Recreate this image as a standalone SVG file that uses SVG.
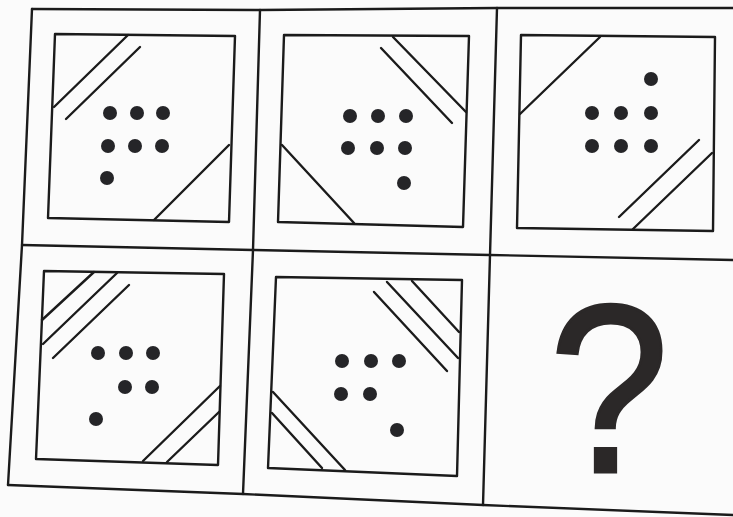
<svg xmlns="http://www.w3.org/2000/svg" width="733" height="517" viewBox="0 0 733 517">
<style>
.ln{stroke:#1b1b1b;stroke-width:2.4;fill:none;stroke-linecap:round;stroke-linejoin:round}
.dt{fill:#252528}
.q{font-family:"Liberation Sans",Arial,sans-serif;font-size:240px;fill:#2b2828;stroke:#2b2828;stroke-width:3;text-anchor:middle}
</style>
<rect width="733" height="517" fill="#fbfbfb"/>
<g id="grid" class="ln">
<path d="M32,9 L260,10 L497,8 L733,8"/>
<path d="M22,245 L253,250 L490,255 L733,260"/>
<path d="M8,485 L243,494 L483,505 L733,515"/>
<path d="M32,9 L22,245 L8,485"/>
<path d="M260,10 L253,250 L243,494"/>
<path d="M497,8 L490,255 L483,505"/>
</g>
<g id="panel1">
<path class="ln" d="M55,34 L235,36 L229,222 L48,218 Z"/>
<path class="ln" d="M54,107 L128,35 M66,119 L140,47 M154,220 L229,145"/>
<g class="dt"><circle cx="110" cy="113" r="7"/><circle cx="137" cy="113" r="7"/><circle cx="163" cy="113" r="7"/><circle cx="108" cy="146" r="7"/><circle cx="135" cy="146" r="7"/><circle cx="162" cy="146" r="7"/><circle cx="107" cy="178" r="7"/></g>
</g>
<g id="panel2">
<path class="ln" d="M284,35 L469,36 L463,227 L278,222 Z"/>
<path class="ln" d="M393,37 L466,112 M381,48 L452,123 M282,145 L354,223"/>
<g class="dt"><circle cx="350" cy="116" r="7"/><circle cx="378" cy="116" r="7"/><circle cx="406" cy="116" r="7"/><circle cx="348" cy="148" r="7"/><circle cx="377" cy="148" r="7"/><circle cx="405" cy="148" r="7"/><circle cx="404" cy="183" r="7"/></g>
</g>
<g id="panel3">
<path class="ln" d="M521,35 L715,37 L713,231 L517,228 Z"/>
<path class="ln" d="M520,114 L600,37 M633,229 L712,153 M619,217 L699,140"/>
<g class="dt"><circle cx="651" cy="79" r="7"/><circle cx="592" cy="113" r="7"/><circle cx="621" cy="113" r="7"/><circle cx="651" cy="113" r="7"/><circle cx="592" cy="146" r="7"/><circle cx="621" cy="146" r="7"/><circle cx="651" cy="146" r="7"/></g>
</g>
<g id="panel4">
<path class="ln" d="M44,271 L224,274 L218,465 L36,459 Z"/>
<path class="ln" d="M42,320 L94,272 M43,344 L117,273 M53,358 L129,285 M143,461 L220,386 M167,462 L219,412"/>
<g class="dt"><circle cx="98" cy="353" r="7"/><circle cx="126" cy="353" r="7"/><circle cx="153" cy="353" r="7"/><circle cx="125" cy="387" r="7"/><circle cx="152" cy="387" r="7"/><circle cx="96" cy="419" r="7"/></g>
</g>
<g id="panel5">
<path class="ln" d="M276,277 L462,280 L457,476 L268,468 Z"/>
<path class="ln" d="M412,281 L459,332 M387,282 L458,358 M374,292 L447,371 M273,392 L345,470 M272,413 L322,468"/>
<g class="dt"><circle cx="342" cy="361" r="7"/><circle cx="371" cy="361" r="7"/><circle cx="399" cy="361" r="7"/><circle cx="341" cy="394" r="7"/><circle cx="370" cy="394" r="7"/><circle cx="397" cy="430" r="7"/></g>
</g>
<g id="panel6">
<text class="q" transform="translate(609,472) scale(0.9,1)" x="0" y="0">?</text>
</g>
</svg>
